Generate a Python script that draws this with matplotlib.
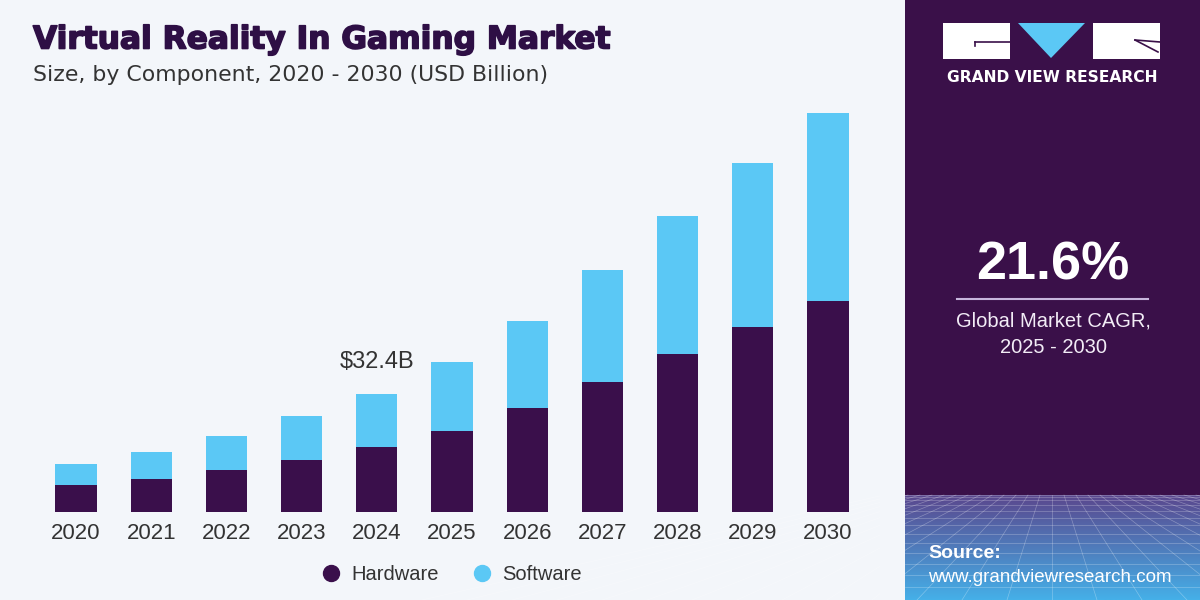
import numpy as np
import matplotlib
matplotlib.use("Agg")
import matplotlib.pyplot as plt
import matplotlib.patheffects as pe
from matplotlib.patches import Rectangle, Polygon
from matplotlib.lines import Line2D

years = ["2020", "2021", "2022", "2023", "2024", "2025", "2026", "2027", "2028", "2029", "2030"]
hardware = [7.4, 9.1, 11.5, 14.3, 17.9, 22.3, 28.6, 35.7, 43.4, 50.8, 58.0]
software = [5.8, 7.4, 9.4, 12.1, 14.5, 18.9, 23.9, 30.8, 37.9, 45.1, 51.6]
series_names = ["Hardware", "Software"]
highlight_year = "2024"
highlight_label = "$32.4B"
cagr_value = "21.6%"
cagr_text = "Global Market CAGR,\n2025 - 2030"

HW_COLOR = "#3a0f4b"
SW_COLOR = "#5bc8f5"
BG = "#f3f6fa"
PANEL = "#3a1049"
TITLE_COLOR = "#2e0f45"
TEXT = "#333333"

fig = plt.figure(figsize=(12, 6), dpi=100)
fig.patch.set_facecolor(BG)

# background / decoration layer in pixel coords
bg = fig.add_axes([0, 0, 1, 1], zorder=0)
bg.axis("off")

bg.add_patch(Rectangle((905, 0), 295, 600, color=PANEL, lw=0))

# gradient source area with a perspective grid
grad = np.linspace(0, 1, 100)[:, None]
c0 = np.array([0x5a, 0x47, 0x8e]) / 255
c1 = np.array([0x45, 0xb0, 0xe8]) / 255
img = c0 + (c1 - c0) * grad[..., None]
img = np.repeat(img, 2, axis=1)
bg.imshow(img, extent=(905, 1200, 600, 495), aspect="auto", zorder=1)
for k in range(-14, 15):
    x_top = 1052 + k * 12
    x_bot = 1052 + k * 45
    bg.plot([x_top, x_bot], [495, 600], color="white", lw=0.5, alpha=0.3, zorder=2)
for k in range(14):
    y = 495 + 105 * (k / 13) ** 1.6
    bg.plot([905, 1200], [y, y], color="white", lw=0.5, alpha=0.3, zorder=2)
bg.add_patch(Rectangle((880, 490), 25, 110, color=BG, lw=0, zorder=3))
bg.set_xlim(0, 1200)
bg.set_ylim(600, 0)

# logo
bg.add_patch(Rectangle((943, 23), 67, 36, color="white", lw=0, zorder=3))
bg.plot([975, 1010], [42, 42], color=PANEL, lw=1.2, zorder=4)
bg.plot([975, 975], [42, 46], color=PANEL, lw=1.2, zorder=4)
bg.add_patch(Polygon([(1018, 23), (1085, 23), (1051, 58)], closed=True, color=SW_COLOR, lw=0, zorder=3))
bg.add_patch(Rectangle((1093, 23), 67, 36, color="white", lw=0, zorder=3))
bg.plot([1135, 1160], [40, 42], color=PANEL, lw=1.2, zorder=4)
bg.plot([1135, 1158], [40, 52], color=PANEL, lw=1.2, zorder=4)
bg.text(1052, 78, "GRAND VIEW RESEARCH", color="white", fontsize=11.2, fontweight="bold",
        family="DejaVu Sans", ha="center", va="center", zorder=4)

# CAGR block
bg.text(1053, 266, cagr_value, color="white", fontsize=39, fontweight="bold",
        family="Liberation Sans", ha="center", va="center", zorder=4)
bg.plot([957, 1148], [299, 299], color="#c7b6dd", lw=1.5, zorder=4)
bg.text(1053, 334, cagr_text, color="#f2ecf6", fontsize=14.5, family="Liberation Sans",
        ha="center", va="center", linespacing=1.5, zorder=4)

# source
bg.text(928, 553, "Source:", color="white", fontsize=14, fontweight="bold",
        family="Liberation Sans", ha="left", va="center", zorder=4)
bg.text(928, 577, "www.grandviewresearch.com", color="white", fontsize=13.5,
        family="Liberation Sans", ha="left", va="center", zorder=4)

# titles
bg.text(33, 40, "Virtual Reality In Gaming Market", color=TITLE_COLOR, fontsize=22.5,
        fontweight="bold", family="DejaVu Sans", ha="left", va="center", zorder=4,
        path_effects=[pe.withStroke(linewidth=1.2, foreground=TITLE_COLOR)])
bg.text(33, 75, "Size, by Component, 2020 - 2030 (USD Billion)", color=TEXT, fontsize=15.8,
        family="DejaVu Sans", ha="left", va="center", zorder=4)

# chart
ax = fig.add_axes([38.5 / 1200, 88 / 600, 827 / 1200, 436.8 / 600], zorder=5)
ax.set_facecolor("none")
x = np.arange(len(years))
ax.bar(x, hardware, width=0.55, color=HW_COLOR, label=series_names[0])
ax.bar(x, software, width=0.55, bottom=hardware, color=SW_COLOR, label=series_names[1])
ax.set_xlim(-0.5, len(years) - 0.5)
ax.set_ylim(0, 120)
ax.set_xticks(x, years)
ax.tick_params(axis="x", length=0, pad=8, labelsize=16, labelcolor=TEXT)
for lbl in ax.get_xticklabels():
    lbl.set_family("Liberation Sans")
ax.set_yticks([])
for s in ax.spines.values():
    s.set_visible(False)

hi = years.index(highlight_year)
ax.annotate(highlight_label, (hi, hardware[hi] + software[hi]), xytext=(0, 23),
            textcoords="offset points", ha="center", va="center", fontsize=17,
            color=TEXT, family="Liberation Sans")

handles = [Line2D([], [], marker="o", ls="none", markersize=11.5, color=HW_COLOR),
           Line2D([], [], marker="o", ls="none", markersize=11.5, color=SW_COLOR)]
leg = fig.legend(handles, series_names, loc="center", bbox_to_anchor=(0.3746, 0.042), ncol=2,
                 frameon=False, handletextpad=0.3, columnspacing=1.45, handlelength=1.4,
                 prop={"family": "Liberation Sans", "size": 14.5})
for t in leg.get_texts():
    t.set_color(TEXT)

fig.savefig("out.png", dpi=100, facecolor=fig.get_facecolor())
